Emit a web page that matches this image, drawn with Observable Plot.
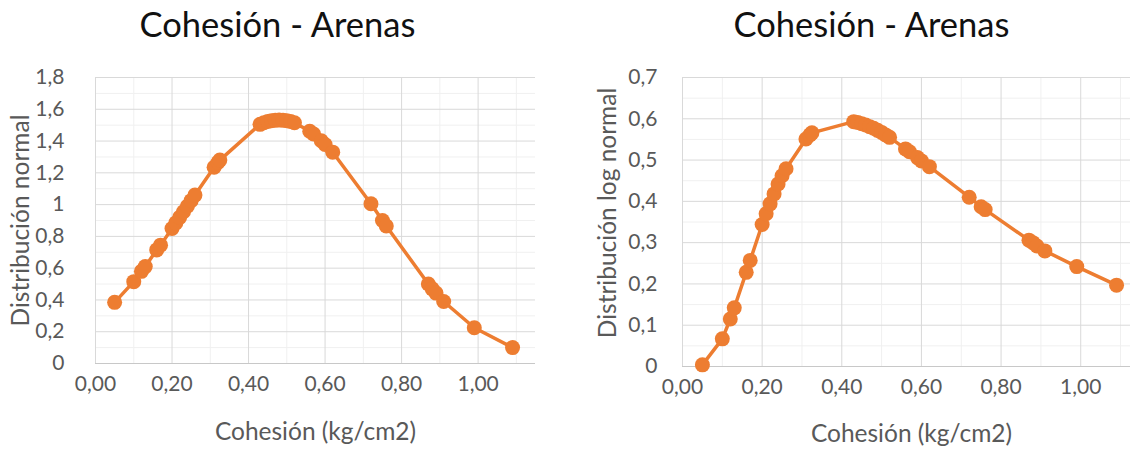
<!DOCTYPE html>
<html>
<head>
<meta charset="utf-8">
<script src="https://cdn.jsdelivr.net/npm/d3@7"></script>
<script src="https://cdn.jsdelivr.net/npm/@observablehq/plot@0.6"></script>
<style>
  html, body { margin: 0; padding: 0; background: #fff; }
  #wrap { display: flex; width: 1131px; height: 453px; }
</style>
</head>
<body>
<div id="wrap"></div>
<script>
// ---- data ----
const cohesion = [0.05, 0.10, 0.12, 0.13, 0.16, 0.17, 0.20, 0.21, 0.22, 0.23, 0.24, 0.25, 0.26,
  0.31, 0.32, 0.325, 0.43, 0.44, 0.45, 0.46, 0.47, 0.48, 0.49, 0.50, 0.51, 0.52,
  0.56, 0.57, 0.59, 0.60, 0.62, 0.72, 0.75, 0.76, 0.87, 0.88, 0.89, 0.91, 0.99, 1.09];
const normalPdf = [0.385, 0.515, 0.58, 0.61, 0.715, 0.745, 0.85, 0.885, 0.92, 0.955, 0.99, 1.025, 1.06,
  1.235, 1.265, 1.28, 1.505, 1.515, 1.523, 1.528, 1.531, 1.532, 1.531, 1.528, 1.523, 1.515,
  1.462, 1.444, 1.402, 1.378, 1.33, 1.005, 0.9, 0.865, 0.5, 0.47, 0.443, 0.39, 0.225, 0.1];
const lognormalPdf = [0.004, 0.067, 0.115, 0.142, 0.228, 0.257, 0.344, 0.37, 0.394, 0.418, 0.442, 0.462, 0.479,
  0.551, 0.561, 0.566, 0.593, 0.591, 0.588, 0.585, 0.581, 0.577, 0.572, 0.567, 0.561, 0.555,
  0.527, 0.52, 0.506, 0.498, 0.484, 0.41, 0.387, 0.38, 0.306, 0.3, 0.292, 0.28, 0.242, 0.197];

const xTicks = [0, 0.2, 0.4, 0.6, 0.8, 1.0];
const xMinor = [0.1, 0.3, 0.5, 0.7, 0.9, 1.1];
const yTicksNormal = [0, 0.2, 0.4, 0.6, 0.8, 1.0, 1.2, 1.4, 1.6, 1.8];
const yMinorNormal = [0.1, 0.3, 0.5, 0.7, 0.9, 1.1, 1.3, 1.5, 1.7];
const yTicksLog = [0, 0.1, 0.2, 0.3, 0.4, 0.5, 0.6, 0.7];
const yMinorLog = [0.05, 0.15, 0.25, 0.35, 0.45, 0.55, 0.65];

const chartTitle = "Cohesión - Arenas";
const xTitle = "Cohesión (kg/cm2)";
const yTitleNormal = "Distribución normal";
const yTitleLog = "Distribución log normal";

const ORANGE = "#ED7D31";
const TEXT = "#595959";
const FONT = "Lato, 'Open Sans', sans-serif";

const comma = s => s.replace(".", ",");
const fmtX = d => comma(d3.format(".2f")(d));
const fmtY = d => comma(d3.format("~g")(d));

function makeChart(o) {
  const data = cohesion.map((c, i) => ({x: c, y: o.ys[i]}));
  return Plot.plot({
    width: o.width,
    height: 453,
    marginLeft: o.marginLeft,
    marginRight: o.marginRight,
    marginTop: 77,
    marginBottom: o.marginBottom,
    style: {fontFamily: FONT, color: TEXT, background: "#fff", overflow: "visible"},
    x: {domain: o.xDomain, axis: null},
    y: {domain: o.yDomain, axis: null},
    marks: [
      Plot.ruleY(o.yMinor, {stroke: "#F0F0F0", strokeWidth: 1}),
      Plot.ruleX(xMinor.filter(d => d <= o.xDomain[1]), {stroke: "#F0F0F0", strokeWidth: 1}),
      Plot.ruleY(o.yTicks.filter(d => d > 0), {stroke: "#D9D9D9", strokeWidth: 1}),
      Plot.ruleX(xTicks, {stroke: "#D9D9D9", strokeWidth: 1}),
      Plot.ruleY([0], {stroke: "#C8C8C8", strokeWidth: 1.2}),
      Plot.axisY({ticks: o.yTicks, tickFormat: fmtY, tickSize: 0, tickPadding: o.yPad, fontSize: 21, label: null, fill: TEXT}),
      Plot.axisX({ticks: xTicks, tickFormat: fmtX, tickSize: 0, tickPadding: 13, fontSize: 21, label: null, fill: TEXT}),
      Plot.line(data, {x: "x", y: "y", stroke: ORANGE, strokeWidth: 3.5}),
      Plot.dot(data, {x: "x", y: "y", r: 7.5, fill: ORANGE, stroke: "none"}),
      Plot.text([chartTitle], {frameAnchor: "top", dy: -65, dx: o.titleDx, fontSize: 34.5, fill: "#111"}),
      Plot.text([xTitle], {frameAnchor: "bottom", dy: o.xTitleDy, dx: o.xTitleDx, fontSize: 24.5, fill: TEXT}),
      Plot.text([o.yTitle], {frameAnchor: "left", textAnchor: "middle", lineAnchor: "middle", rotate: -90, dx: -74, dy: o.yTitleDy, fontSize: 24.5, fill: TEXT})
    ]
  });
}

const wrap = document.getElementById("wrap");
wrap.appendChild(makeChart({
  ys: normalPdf, width: 560, marginLeft: 95, marginRight: 25, marginBottom: 90,
  xDomain: [0, 1.15], yDomain: [0, 1.8], yTicks: yTicksNormal, yMinor: yMinorNormal,
  yPad: 31, titleDx: -38, xTitleDy: 76, xTitleDx: 0, yTitle: yTitleNormal, yTitleDy: 0
}));
wrap.appendChild(makeChart({
  ys: lognormalPdf, width: 571, marginLeft: 122, marginRight: 1, marginBottom: 87,
  xDomain: [0, 1.125], yDomain: [0, 0.7], yTicks: yTicksLog, yMinor: yMinorLog,
  yPad: 25, titleDx: -35, xTitleDy: 75, xTitleDx: 5, yTitle: yTitleLog, yTitleDy: -9
}));
</script>
</body>
</html>
